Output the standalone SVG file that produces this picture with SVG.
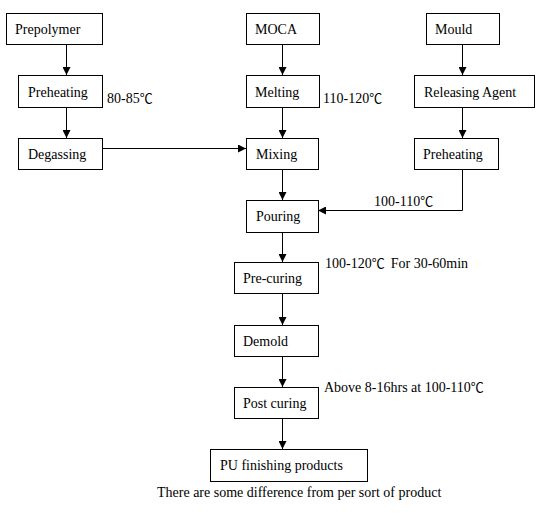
<svg xmlns="http://www.w3.org/2000/svg" width="541" height="515" viewBox="0 0 541 515">
<style>
  .box { fill: #fff; stroke: #000; stroke-width: 1; }
  .t { font-family: 'Liberation Serif', 'Times New Roman', 'DejaVu Serif', serif; font-size: 14px; fill: #000; }
  .c { font-family: 'Noto Sans CJK SC', 'DejaVu Sans', sans-serif; font-size: 13px; }
  .ln { fill: none; stroke: #000; stroke-width: 1; }
</style>
<defs>
  <marker id="ah" viewBox="0 0 8 8" refX="8" refY="4" markerWidth="8" markerHeight="8" markerUnits="userSpaceOnUse" orient="auto">
    <path d="M0,0 L8,4 L0,8 Z" fill="#000"/>
  </marker>
</defs>
<rect width="541" height="515" fill="#fff"/>
<g id="connectors">
  <line class="ln" x1="66.5" y1="44" x2="66.5" y2="75" marker-end="url(#ah)"/>
  <line class="ln" x1="66.5" y1="107" x2="66.5" y2="138" marker-end="url(#ah)"/>
  <line class="ln" x1="102" y1="148.5" x2="246" y2="148.5" marker-end="url(#ah)"/>
  <line class="ln" x1="282.5" y1="44" x2="282.5" y2="75" marker-end="url(#ah)"/>
  <line class="ln" x1="282.5" y1="107" x2="282.5" y2="138" marker-end="url(#ah)"/>
  <line class="ln" x1="462.5" y1="44" x2="462.5" y2="75" marker-end="url(#ah)"/>
  <line class="ln" x1="462.5" y1="107" x2="462.5" y2="138" marker-end="url(#ah)"/>
  <polyline class="ln" points="462.5,169 462.5,210.5 318,210.5" marker-end="url(#ah)"/>
  <line class="ln" x1="282.5" y1="169" x2="282.5" y2="200" marker-end="url(#ah)"/>
  <line class="ln" x1="282.5" y1="232" x2="282.5" y2="262" marker-end="url(#ah)"/>
  <line class="ln" x1="282.5" y1="293" x2="282.5" y2="325" marker-end="url(#ah)"/>
  <line class="ln" x1="282.5" y1="356" x2="282.5" y2="387" marker-end="url(#ah)"/>
  <line class="ln" x1="282.5" y1="418" x2="282.5" y2="449" marker-end="url(#ah)"/>
</g>
<g id="prepolymer"><rect class="box" x="6.5" y="13.5" width="96" height="31"/><text class="t" x="15" y="34">Prepolymer</text></g>
<g id="preheating-left"><rect class="box" x="18.5" y="75.5" width="84" height="32"/><text class="t" x="28" y="97">Preheating</text></g>
<g id="degassing"><rect class="box" x="18.5" y="138.5" width="84" height="31"/><text class="t" x="28" y="159">Degassing</text></g>
<g id="moca"><rect class="box" x="246.5" y="13.5" width="73" height="31"/><text class="t" x="255" y="34">MOCA</text></g>
<g id="melting"><rect class="box" x="246.5" y="75.5" width="73" height="32"/><text class="t" x="255" y="97">Melting</text></g>
<g id="mixing"><rect class="box" x="246.5" y="138.5" width="72" height="31"/><text class="t" x="256" y="159">Mixing</text></g>
<g id="mould"><rect class="box" x="426.5" y="13.5" width="73" height="31"/><text class="t" x="435" y="34">Mould</text></g>
<g id="releasing-agent"><rect class="box" x="414.5" y="75.5" width="120" height="32"/><text class="t" x="424" y="97">Releasing Agent</text></g>
<g id="preheating-right"><rect class="box" x="414.5" y="138.5" width="84" height="31"/><text class="t" x="423" y="159">Preheating</text></g>
<g id="pouring"><rect class="box" x="246.5" y="200.5" width="72" height="32"/><text class="t" x="256" y="221">Pouring</text></g>
<g id="pre-curing"><rect class="box" x="234.5" y="262.5" width="84" height="31"/><text class="t" x="243" y="283">Pre-curing</text></g>
<g id="demold"><rect class="box" x="234.5" y="325.5" width="84" height="31"/><text class="t" x="243" y="346">Demold</text></g>
<g id="post-curing"><rect class="box" x="234.5" y="387.5" width="84" height="31"/><text class="t" x="243" y="408">Post curing</text></g>
<g id="pu-finishing"><rect class="box" x="210.5" y="449.5" width="157" height="32"/><text class="t" x="220" y="470">PU finishing products</text></g>
<g id="annotations">
  <text class="t" x="107" y="103">80-85<tspan class="c">℃</tspan></text>
  <text class="t" x="323" y="103">110-120<tspan class="c">℃</tspan></text>
  <text class="t" x="374" y="206">100-110<tspan class="c">℃</tspan></text>
  <text class="t" x="325" y="268">100-120<tspan class="c">℃</tspan><tspan dx="6">For 30-60min</tspan></text>
  <text class="t" x="324" y="392">Above 8-16hrs at 100-110<tspan class="c">℃</tspan></text>
  <text class="t" x="157" y="497">There are some difference from per sort of product</text>
</g>
</svg>
